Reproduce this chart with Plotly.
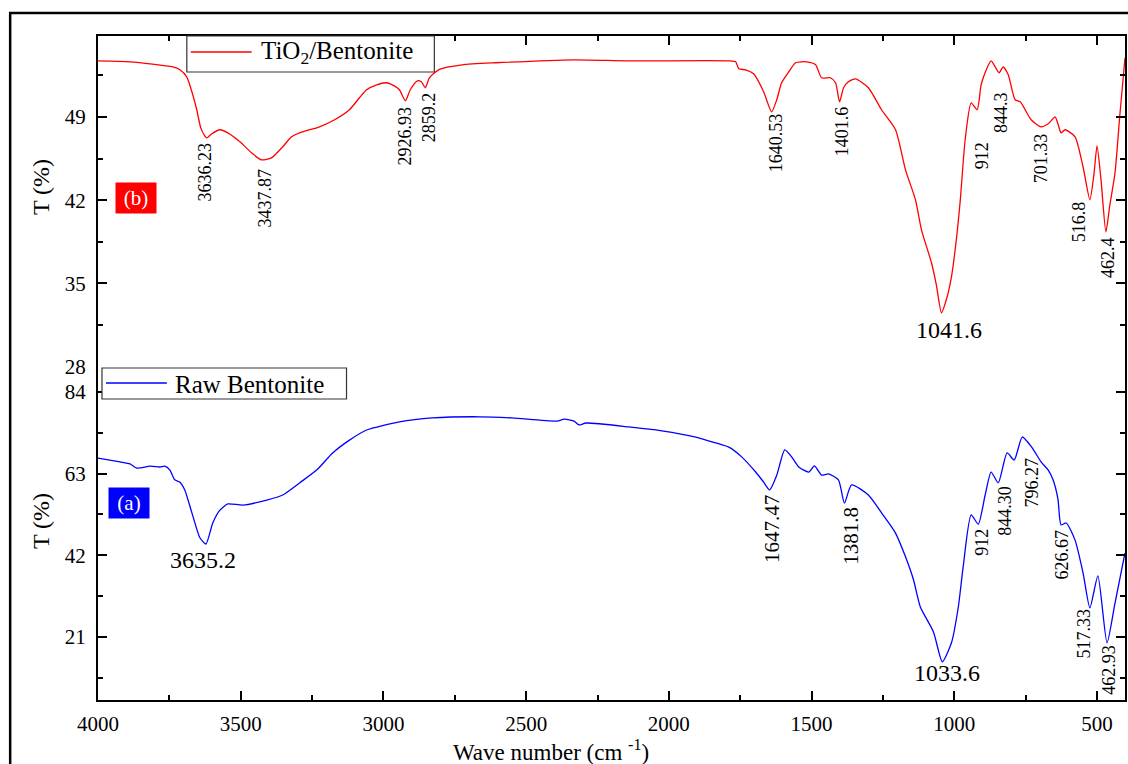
import plotly.graph_objects as go

# ---------------- data ----------------
# TiO2/Bentonite (upper panel)
tio2_wn = [4000, 3888, 3738, 3713, 3689, 3668, 3654, 3640, 3626, 3619, 3601, 3573, 3545, 3503,
           3462, 3427, 3392, 3353, 3322, 3294, 3224, 3171, 3119, 3084, 3059, 3024, 2990, 2962,
           2944, 2923, 2906, 2881, 2867, 2853, 2839, 2804, 2724, 2605, 2332, 2140, 1790, 1766,
           1755, 1731, 1703, 1668, 1640, 1622, 1605, 1580, 1556, 1517, 1486, 1465, 1434, 1416,
           1402, 1388, 1371, 1346, 1301, 1255, 1206, 1171, 1136, 1115, 1080, 1063, 1045, 1028,
           1010, 993, 979, 962, 941, 920, 906, 888, 871, 843, 829, 811, 787, 769, 731, 696, 671,
           647, 636, 626, 612, 577, 549, 525, 511, 500, 486, 469, 455, 437, 420, 402]
tio2_t = [53.71, 53.63, 53.21, 52.96, 52.37, 50.86, 49.60, 48.08, 47.41, 47.24, 47.58, 47.92, 47.66, 46.91,
          45.98, 45.39, 45.56, 46.49, 47.33, 47.66, 48.17, 48.76, 49.60, 50.61, 51.28, 51.70, 51.87, 51.61,
          51.28, 50.35, 51.28, 52.03, 51.95, 51.45, 52.29, 53.00, 53.38, 53.55, 53.80, 53.71, 53.71, 53.63,
          53.04, 52.96, 52.62, 51.11, 49.43, 50.44, 51.87, 52.79, 53.55, 53.63, 53.38, 52.29, 52.29, 51.87,
          50.27, 51.45, 51.95, 52.20, 51.45, 49.60, 47.92, 44.55, 42.03, 39.51, 36.74, 34.89, 32.54, 33.63,
          35.56, 38.67, 42.03, 47.08, 50.18, 49.60, 51.70, 52.96, 53.71, 52.71, 53.21, 52.54, 50.44, 50.27,
          48.76, 48.17, 48.42, 49.01, 48.34, 47.66, 47.92, 47.33, 44.81, 42.03, 44.13, 46.57, 43.71, 39.34,
          41.61, 44.30, 49.18, 53.97]

# Raw Bentonite (lower panel)
raw_wn = [4000, 3923, 3888, 3864, 3818, 3783, 3766, 3748, 3731, 3713, 3696, 3671, 3643, 3622, 3598,
          3573, 3545, 3493, 3409, 3353, 3294, 3234, 3178, 3119, 3059, 2944, 2829, 2664, 2549, 2392,
          2367, 2332, 2315, 2290, 2140, 2025, 1906, 1836, 1790, 1745, 1696, 1668, 1647, 1622, 1594,
          1570, 1545, 1510, 1490, 1465, 1441, 1406, 1385, 1360, 1301, 1255, 1206, 1171, 1143, 1119,
          1073, 1042, 1010, 986, 969, 941, 916, 892, 871, 846, 815, 790, 762, 729, 696, 671, 654,
          637, 626, 608, 577, 549, 525, 497, 465, 437, 402]
raw_t = [67.0, 66.0, 65.5, 64.4, 64.9, 64.7, 64.9, 63.9, 61.4, 60.8, 58.8, 52.9, 46.5, 44.9, 50.3,
         53.6, 55.2, 54.9, 56.2, 57.5, 60.6, 63.9, 68.3, 71.6, 74.2, 76.3, 77.3, 77.6, 77.3, 76.5,
         77.0, 76.5, 75.5, 76.0, 75.0, 74.0, 72.4, 70.9, 69.8, 67.3, 63.4, 60.8, 58.8, 62.6, 69.1,
         67.3, 64.7, 63.4, 65.0, 62.6, 62.9, 61.4, 55.4, 60.1, 57.5, 52.9, 47.7, 41.6, 35.7, 28.7,
         22.3, 14.6, 19.5, 28.7, 39.0, 52.4, 50.0, 57.5, 63.4, 60.6, 68.3, 66.5, 72.4, 69.8, 66.0,
         63.9, 61.4, 56.5, 49.8, 50.3, 45.9, 37.5, 28.5, 36.7, 19.5, 29.7, 42.6]

# peak labels: (text, x, y, size, angle)
tio2_labels = [("3636.23", 3626, 44.4, 18, -90), ("3437.87", 3416, 42.2, 18, -90),
               ("2926.93", 2926, 47.4, 18, -90), ("2859.2", 2839, 49.0, 18, -90),
               ("1640.53", 1624, 46.8, 18, -90), ("1401.6", 1393, 47.8, 18, -90),
               ("912", 903, 45.7, 18, -90), ("844.3", 837, 49.4, 18, -90),
               ("701.33", 697, 45.5, 18, -90), ("516.8", 564, 40.2, 18, -90),
               ("462.4", 459, 37.2, 18, -90), ("1041.6", 1019, 31.1, 24, 0)]
raw_labels = [("3635.2", 3633, 40.8, 24, 0), ("1647.47", 1638, 48.8, 21, -90),
              ("1381.8", 1362, 47.0, 21, -90), ("912", 903, 45.2, 18, -90),
              ("844.30", 823, 53.4, 18, -90), ("796.27", 729, 60.6, 18, -90),
              ("626.67", 624, 42.1, 18, -90), ("517.33", 547, 21.8, 18, -90),
              ("462.93", 459, 12.5, 18, -90), ("1033.6", 1026, 11.7, 24, 0)]

x_ticks = [4000, 3500, 3000, 2500, 2000, 1500, 1000, 500]

# ---------------- figure ----------------
FONT = "Liberation Serif"
L, R, T, B = 98, 1, 36, 64
W, H = 1128, 764
PW, PH = W - L - R, H - T - B


def px(x):
    return (x - L) / PW


def py(y):
    return (H - B - y) / PH


split = py(367)

fig = go.Figure()
fig.add_trace(go.Scatter(x=tio2_wn, y=tio2_t, mode="lines", line=dict(color="#ff0000", width=1.3, shape="spline", smoothing=0.6),
                         xaxis="x2", yaxis="y2", name="TiO2/Bentonite", showlegend=False))
fig.add_trace(go.Scatter(x=raw_wn, y=raw_t, mode="lines", line=dict(color="#0000ff", width=1.3, shape="spline", smoothing=0.6),
                         xaxis="x", yaxis="y", name="Raw Bentonite", showlegend=False))

common_x = dict(range=[4000, 402], showline=True, linecolor="black", linewidth=2, ticks="inside",
                ticklen=9, tickwidth=1.5, tickcolor="black", tickvals=x_ticks, showgrid=False, zeroline=False,
                minor=dict(ticks="inside", ticklen=5, tickwidth=1.5, tickcolor="black", dtick=250, tick0=0))
common_y = dict(showline=True, linecolor="black", linewidth=2, ticks="inside", ticklen=9, tickwidth=1.5,
                tickcolor="black", mirror="ticks", showgrid=False, zeroline=False,
                tickfont=dict(family=FONT, size=21, color="black"), ticklabelstandoff=6)

fig.update_layout(
    width=W, height=H, margin=dict(l=L, r=R, t=T, b=B, pad=0),
    paper_bgcolor="white", plot_bgcolor="white", showlegend=False,
    font=dict(family=FONT, color="black"),
    xaxis=dict(anchor="y", side="bottom", tickfont=dict(family=FONT, size=21, color="black"),
               ticklabelstandoff=4, **common_x),
    xaxis2=dict(anchor="y2", side="top", matches="x", showticklabels=False, **common_x),
    yaxis=dict(domain=[0, split], range=[4.8, 90.4], tick0=0, dtick=21,
               minor=dict(ticks="inside", ticklen=5, tickwidth=1.5, tickcolor="black", dtick=10.5, tick0=0),
               **common_y),
    yaxis2=dict(domain=[split, 1], range=[27.98, 55.8], tick0=0, dtick=7,
                minor=dict(ticks="inside", ticklen=5, tickwidth=1.5, tickcolor="black", dtick=3.5, tick0=0),
                **common_y),
)

ann = []
for txt, x, y, s, a in tio2_labels:
    ann.append(dict(text=txt, x=x, y=y, xref="x2", yref="y2", showarrow=False, textangle=a,
                    xanchor="center", yanchor="middle",
                    font=dict(family=FONT, size=s, color="black")))
for txt, x, y, s, a in raw_labels:
    ann.append(dict(text=txt, x=x, y=y, xref="x", yref="y", showarrow=False, textangle=a,
                    xanchor="center", yanchor="middle",
                    font=dict(family=FONT, size=s, color="black")))


def pann(text, x, y, size, color="black", xanchor="center", angle=0, **kw):
    return dict(text=text, x=px(x), y=py(y), xref="paper", yref="paper", showarrow=False,
                xanchor=xanchor, yanchor="middle", textangle=angle,
                font=dict(family=FONT, size=size, color=color), **kw)


# axis titles
ann.append(pann("T (%)", 41, 187, 24, angle=-90))
ann.append(pann("T (%)", 41, 521, 24, angle=-90))
ann.append(pann("Wave number (cm <sup>-1</sup>)", 552, 750, 23))

# panel tags
ann.append(pann("(b)", 136, 198, 21, color="white", bgcolor="#ff0000", width=38, height=28))
ann.append(pann("(a)", 129, 503, 21, color="white", bgcolor="#0000ff", width=38, height=28))

# legend texts
ann.append(pann("TiO<sub>2</sub>/Bentonite", 259, 53, 25, xanchor="left"))
ann.append(pann("Raw Bentonite", 173, 384, 25, xanchor="left"))

shapes = [
    # outer frame
    dict(type="rect", xref="paper", yref="paper", x0=px(10), x1=px(1140), y0=py(790), y1=py(13),
         line=dict(color="black", width=2.5), layer="above"),
    # legend boxes
    dict(type="rect", xref="paper", yref="paper", x0=px(187), x1=px(435), y0=py(72), y1=py(36),
         line=dict(color="#333333", width=1.2), fillcolor="white", layer="above"),
    dict(type="line", xref="paper", yref="paper", x0=px(191), x1=px(252), y0=py(52), y1=py(52),
         line=dict(color="#ff0000", width=1.3), layer="above"),
    dict(type="rect", xref="paper", yref="paper", x0=px(102), x1=px(347), y0=py(399), y1=py(368),
         line=dict(color="#333333", width=1.2), fillcolor="white", layer="above"),
    dict(type="line", xref="paper", yref="paper", x0=px(106), x1=px(167), y0=py(383), y1=py(383),
         line=dict(color="#0000ff", width=1.3), layer="above"),
]
fig.update_layout(annotations=ann, shapes=shapes)
fig.write_html("out.html")
